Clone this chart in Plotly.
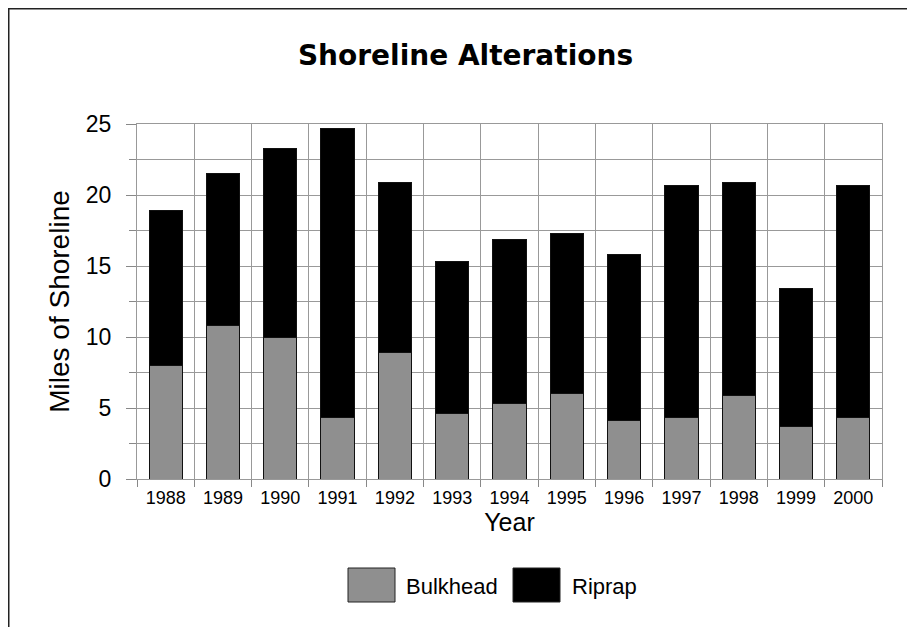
import plotly.graph_objects as go

years = ["1988", "1989", "1990", "1991", "1992", "1993", "1994", "1995",
         "1996", "1997", "1998", "1999", "2000"]
bulkhead = [8.0, 10.8, 10.0, 4.3, 8.9, 4.6, 5.3, 6.0, 4.1, 4.3, 5.9, 3.7, 4.3]
totals = [18.9, 21.5, 23.3, 24.7, 20.9, 15.3, 16.9, 17.3, 15.8, 20.7, 20.9, 13.4, 20.7]
riprap = [round(t - b, 2) for t, b in zip(totals, bulkhead)]
series_names = ["Bulkhead", "Riprap"]
series_colors = ["#8f8f8f", "#000000"]

# page is offset by the 8px body margin; figure coords = page coords - 8
W, H = 915, 627
ML, MR, MT, MB = 129, 41, 116, 156
PW, PH = W - ML - MR, H - MT - MB

def px(x):
    return (x - ML) / PW

def py(y):
    return (H - MB - y) / PH

fig = go.Figure()
for name, vals, col in zip(series_names, [bulkhead, riprap], series_colors):
    fig.add_trace(go.Bar(
        x=years, y=vals, name=name,
        marker=dict(color=col, line=dict(color="#111111", width=1)),
        showlegend=False,
    ))

font = "Liberation Sans, Arial, sans-serif"

shapes = [
    dict(type="line", xref="paper", yref="paper", x0=px(0), x1=px(W), y0=py(0.75), y1=py(0.75),
         line=dict(color="#222222", width=1.5)),
    dict(type="line", xref="paper", yref="paper", x0=px(0.75), x1=px(0.75), y0=py(0), y1=py(H),
         line=dict(color="#222222", width=1.5)),
]
annotations = []
legend_items = [(340, 396), (505, 562)]
for (bx, tx), name, col in zip(legend_items, series_names, series_colors):
    shapes.append(dict(type="rect", xref="paper", yref="paper",
                       x0=px(bx), x1=px(bx + 47), y0=py(560), y1=py(594),
                       fillcolor=col, line=dict(color="#222222", width=1)))
    annotations.append(dict(text=name, xref="paper", yref="paper", x=px(tx), y=py(578),
                            xanchor="left", yanchor="middle", showarrow=False,
                            font=dict(family=font, size=22, color="#000000")))

fig.update_layout(
    width=W, height=H,
    margin=dict(l=ML, r=MR, t=MT, b=MB),
    paper_bgcolor="white", plot_bgcolor="white",
    barmode="stack", bargap=0.42,
    title=dict(text="Shoreline Alterations", x=0.5, xref="container", xanchor="center",
               y=1 - 47 / H, yanchor="middle",
               font=dict(family="DejaVu Sans", size=28, color="#000000", weight="bold")),
    font=dict(family=font, color="#000000"),
    shapes=shapes,
    annotations=annotations,
    xaxis=dict(
        type="category", tickson="boundaries", ticks="outside", ticklen=7,
        tickcolor="#888888", showgrid=True, gridcolor="#999999", gridwidth=1,
        showline=True, linecolor="#999999", mirror=True,
        ticklabelstandoff=2,
        tickfont=dict(size=18), title=dict(text="Year", font=dict(size=25), standoff=4),
    ),
    yaxis=dict(
        range=[0, 25], dtick=5, ticks="outside", ticklen=10, tickcolor="#888888",
        showgrid=True, gridcolor="#999999", gridwidth=1,
        showline=True, linecolor="#999999", mirror=True, zeroline=False,
        minor=dict(dtick=2.5, showgrid=True, gridcolor="#999999", ticks="outside",
                   ticklen=7, tickcolor="#888888"),
        ticklabelstandoff=10,
        tickfont=dict(size=23), title=dict(text="Miles of Shoreline", font=dict(size=28), standoff=8),
    ),
)

fig.write_html("out.html")
